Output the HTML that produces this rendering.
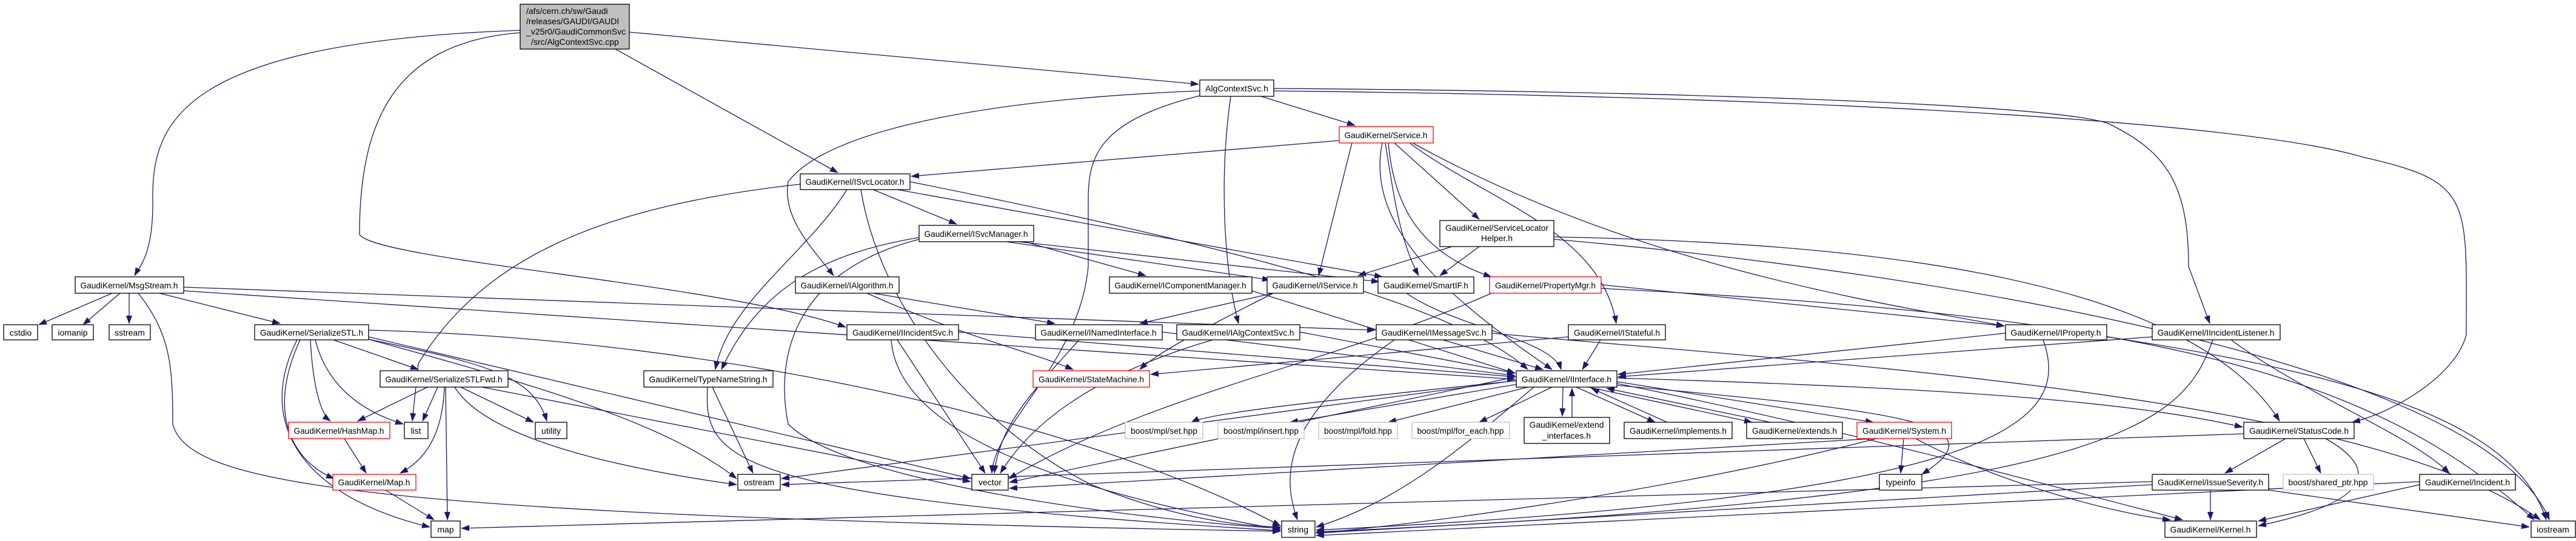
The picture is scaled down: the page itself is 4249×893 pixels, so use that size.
<!DOCTYPE html>
<html><head><meta charset="utf-8"><style>
html,body{margin:0;padding:0;background:#fff;}
svg{display:block;}
text{font-family:"Liberation Sans",sans-serif;font-size:14px;fill:#000;}
.e{fill:none;stroke:#191970;stroke-width:1.3;}
.n{fill:#fff;stroke:#000;stroke-width:1.3;}
.r{fill:#fff;stroke:#ff0000;stroke-width:1.3;}
.g{fill:#fff;stroke:#bfbfbf;stroke-width:1.3;}
</style></head><body>
<svg width="4249" height="893" viewBox="0 0 4249 893" xmlns="http://www.w3.org/2000/svg">
<defs><marker id="a" markerUnits="userSpaceOnUse" markerWidth="14" markerHeight="10" refX="13" refY="5" orient="auto"><path d="M0,0 L14,5 L0,10 z" fill="#191970"/></marker></defs>
<g class="e" marker-end="url(#a)">
<path d="M858,50 C300,70 250,200 252,330 C253,420 230,440 222,455"/>
<path d="M858,54 C650,70 593,200 593,387 C620,430 1200,470 1395,540"/>
<path d="M1038,53 L1977,139"/>
<path d="M1015,81 L1382,285"/>
<path d="M2080,159 L2235,207"/>
<path d="M1979,150 C1600,165 1360,220 1300,300 C1290,360 1340,410 1375,455"/>
<path d="M1979,158 C1810,200 1795,260 1795,330 L1795,440 C1780,600 1640,700 1636,781"/>
<path d="M2030,159 C2010,300 2020,450 2043,534"/>
<path d="M2101,146 C2700,150 3400,170 3480,205 C3570,250 3610,300 3610,440 L3645,534"/>
<path d="M2101,150 C3000,160 3700,200 3900,260 C4080,300 4068,330 4068,553 C4050,620 3950,680 3880,697"/>
<path d="M2209,232 L1503,291"/>
<path d="M2230,236 L2175,455"/>
<path d="M2285,236 C2300,330 2310,400 2340,455"/>
<path d="M2300,236 L2440,362"/>
<path d="M2325,236 C2450,330 2640,380 2666,534"/>
<path d="M2290,236 C2300,350 2350,420 2460,457"/>
<path d="M2330,236 C2700,440 3100,500 3306,538"/>
<path d="M2280,236 C2250,380 2400,500 2560,610"/>
<path d="M2395,407 L2240,455"/>
<path d="M2440,407 L2375,455"/>
<path d="M2563,391 C3000,400 3600,440 3760,695"/>
<path d="M2563,395 C3200,450 4100,600 4205,858"/>
<path d="M1440,313 L1578,370"/>
<path d="M1397,313 C1330,420 1200,500 1180,610"/>
<path d="M1320,304 C1000,340 800,420 690,600 L680,695"/>
<path d="M1480,313 L2280,457"/>
<path d="M1420,313 C1450,500 1600,700 1800,800 C1950,860 2050,868 2112,870"/>
<path d="M1501,300 C2000,400 2400,500 2520,610"/>
<path d="M1690,399 L1890,455"/>
<path d="M1660,399 L2095,462"/>
<path d="M1680,399 L2275,465"/>
<path d="M1516,392 C1350,420 1250,480 1190,610"/>
<path d="M1516,395 C1300,450 1280,600 1300,700 C1400,800 1900,860 2112,872"/>
<path d="M1440,484 L1740,534"/>
<path d="M1430,484 C1600,560 1700,580 1770,610"/>
<path d="M2065,480 L2499,616"/>
<path d="M2100,484 L1880,534"/>
<path d="M2100,484 C1950,560 1900,590 1880,610"/>
<path d="M2320,484 C2400,540 2560,560 2575,610"/>
<path d="M2641,470 L3306,538"/>
<path d="M2460,484 C2200,600 1900,650 1664,790"/>
<path d="M2641,476 C3500,520 3900,600 4180,858"/>
<path d="M1581,548 L2499,622"/>
<path d="M1480,561 L1625,781"/>
<path d="M1470,561 C1480,700 1700,800 2112,874"/>
<path d="M1917,548 L2499,620"/>
<path d="M1780,561 C1700,650 1650,700 1640,781"/>
<path d="M2144,548 L2499,616"/>
<path d="M2000,561 C1800,620 1700,700 1650,781"/>
<path d="M2380,561 L2545,610"/>
<path d="M2300,561 C2100,700 2120,800 2140,858"/>
<path d="M2461,550 C3000,600 3900,650 4190,858"/>
<path d="M2640,561 L2610,610"/>
<path d="M2587,556 L1898,618"/>
<path d="M3308,550 L2669,618"/>
<path d="M3370,561 C3420,700 3300,820 2171,875"/>
<path d="M3475,556 C3900,620 4150,700 4200,858"/>
<path d="M3550,556 L2669,622"/>
<path d="M3680,561 C3800,650 3980,720 4040,781"/>
<path d="M3650,561 C3600,700 3500,820 2171,878"/>
<path d="M550,561 L690,610"/>
<path d="M512,561 C515,620 525,680 545,695"/>
<path d="M520,561 C540,640 600,680 665,700"/>
<path d="M495,561 C440,680 480,760 551,790"/>
<path d="M490,561 C420,700 500,820 709,870"/>
<path d="M608,560 C800,600 880,620 902,695"/>
<path d="M608,560 C900,640 1100,700 1215,790"/>
<path d="M608,556 L1601,790"/>
<path d="M608,545 C1200,560 1800,700 2112,868"/>
<path d="M705,639 L590,695"/>
<path d="M722,639 L697,695"/>
<path d="M733,639 C730,720 700,760 660,781"/>
<path d="M735,639 L738,858"/>
<path d="M760,639 L880,697"/>
<path d="M795,639 L1601,795"/>
<path d="M750,639 C800,720 1000,770 1215,800"/>
<path d="M568,724 L604,781"/>
<path d="M636,809 L716,858"/>
<path d="M185,484 L64,536"/>
<path d="M198,484 L137,536"/>
<path d="M213,484 L213,534"/>
<path d="M263,484 L462,534"/>
<path d="M228,484 C280,550 285,600 285,700 C310,800 600,850 2112,877"/>
<path d="M303,474 L2268,545"/>
<path d="M303,480 L2499,626"/>
<path d="M1175,639 L1242,781"/>
<path d="M1167,639 C1160,760 1200,820 2112,876"/>
<path d="M2505,628 C2200,660 2000,680 1965,697"/>
<path d="M2510,633 L2128,697"/>
<path d="M2520,639 L2290,697"/>
<path d="M2560,639 L2440,697"/>
<path d="M2578,639 L2577,687"/>
<path d="M2593,689 L2593,641"/>
<path d="M2600,639 L2730,697"/>
<path d="M2750,697 L2625,641"/>
<path d="M2620,639 L2890,697"/>
<path d="M2920,697 L2650,641"/>
<path d="M2667,630 L3090,697"/>
<path d="M2667,624 C3200,640 3500,660 3699,705"/>
<path d="M2501,628 L1289,790"/>
<path d="M2501,622 L1665,796"/>
<path d="M2667,633 C3000,700 3300,780 3600,858"/>
<path d="M2667,636 C3150,680 3300,700 3170,783"/>
<path d="M2530,639 C2400,750 2300,830 2171,870"/>
<path d="M3140,724 L3135,781"/>
<path d="M3160,724 C3300,800 3500,850 3580,858"/>
<path d="M3095,724 C2800,800 2400,860 2171,880"/>
<path d="M3090,724 L1665,806"/>
<path d="M3770,724 L3670,781"/>
<path d="M3800,724 L3828,781"/>
<path d="M3836,724 C3900,760 3950,820 3725,868"/>
<path d="M3701,716 L1289,800"/>
<path d="M3646,809 L3646,858"/>
<path d="M3742,809 L4172,870"/>
<path d="M3550,800 L2171,880"/>
<path d="M3550,795 L761,872"/>
<path d="M3991,800 L3725,860"/>
<path d="M3991,795 L2171,884"/>
</g>
<!-- root -->
<rect x="858" y="7" width="180" height="74" fill="#bfbfbf" stroke="#000" stroke-width="1.3"/>
<text x="868" y="23">/afs/cern.ch/sw/Gaudi</text>
<text x="868" y="40">/releases/GAUDI/GAUDI</text>
<text x="868" y="57">_v25r0/GaudiCommonSvc</text>
<text x="876" y="74">/src/AlgContextSvc.cpp</text>
<!-- nodes -->
<g text-anchor="middle">
<rect class="n" x="1979" y="132" width="122" height="27"/><text x="2040" y="151" textLength="104" lengthAdjust="spacingAndGlyphs">AlgContextSvc.h</text>
<rect class="r" x="2209" y="209" width="155" height="27"/><text x="2286" y="228" textLength="137" lengthAdjust="spacingAndGlyphs">GaudiKernel/Service.h</text>
<rect class="n" x="1320" y="287" width="181" height="26"/><text x="1410" y="305" textLength="163" lengthAdjust="spacingAndGlyphs">GaudiKernel/ISvcLocator.h</text>
<rect class="n" x="2375" y="364" width="188" height="43"/><text x="2469" y="381" textLength="170" lengthAdjust="spacingAndGlyphs">GaudiKernel/ServiceLocator</text><text x="2469" y="398">Helper.h</text>
<rect class="n" x="1516" y="372" width="189" height="27"/><text x="1610" y="391" textLength="171" lengthAdjust="spacingAndGlyphs">GaudiKernel/ISvcManager.h</text>
<rect class="n" x="124" y="457" width="179" height="27"/><text x="213" y="476" textLength="161" lengthAdjust="spacingAndGlyphs">GaudiKernel/MsgStream.h</text>
<rect class="n" x="1312" y="457" width="171" height="27"/><text x="1397" y="476" textLength="153" lengthAdjust="spacingAndGlyphs">GaudiKernel/IAlgorithm.h</text>
<rect class="n" x="1830" y="457" width="235" height="27"/><text x="1947" y="476" textLength="217" lengthAdjust="spacingAndGlyphs">GaudiKernel/IComponentManager.h</text>
<rect class="n" x="2090" y="457" width="159" height="27"/><text x="2169" y="476" textLength="141" lengthAdjust="spacingAndGlyphs">GaudiKernel/IService.h</text>
<rect class="n" x="2273" y="457" width="158" height="27"/><text x="2352" y="476" textLength="140" lengthAdjust="spacingAndGlyphs">GaudiKernel/SmartIF.h</text>
<rect class="r" x="2457" y="457" width="184" height="27"/><text x="2549" y="476" textLength="166" lengthAdjust="spacingAndGlyphs">GaudiKernel/PropertyMgr.h</text>
<rect class="n" x="6" y="536" width="56" height="25"/><text x="34" y="554">cstdio</text>
<rect class="n" x="86" y="536" width="68" height="25"/><text x="120" y="554">iomanip</text>
<rect class="n" x="180" y="536" width="68" height="25"/><text x="214" y="554">sstream</text>
<rect class="n" x="420" y="536" width="188" height="25"/><text x="514" y="554" textLength="170" lengthAdjust="spacingAndGlyphs">GaudiKernel/SerializeSTL.h</text>
<rect class="n" x="1397" y="536" width="184" height="25"/><text x="1489" y="554" textLength="166" lengthAdjust="spacingAndGlyphs">GaudiKernel/IIncidentSvc.h</text>
<rect class="n" x="1708" y="536" width="209" height="25"/><text x="1812" y="554" textLength="191" lengthAdjust="spacingAndGlyphs">GaudiKernel/INamedInterface.h</text>
<rect class="n" x="1941" y="536" width="203" height="25"/><text x="2042" y="554" textLength="185" lengthAdjust="spacingAndGlyphs">GaudiKernel/IAlgContextSvc.h</text>
<rect class="n" x="2270" y="536" width="191" height="25"/><text x="2365" y="554" textLength="173" lengthAdjust="spacingAndGlyphs">GaudiKernel/IMessageSvc.h</text>
<rect class="n" x="2587" y="536" width="160" height="25"/><text x="2667" y="554" textLength="142" lengthAdjust="spacingAndGlyphs">GaudiKernel/IStateful.h</text>
<rect class="n" x="3308" y="536" width="167" height="25"/><text x="3391" y="554" textLength="149" lengthAdjust="spacingAndGlyphs">GaudiKernel/IProperty.h</text>
<rect class="n" x="3550" y="536" width="211" height="25"/><text x="3655" y="554" textLength="193" lengthAdjust="spacingAndGlyphs">GaudiKernel/IIncidentListener.h</text>
<rect class="n" x="627" y="612" width="211" height="27"/><text x="732" y="631" textLength="193" lengthAdjust="spacingAndGlyphs">GaudiKernel/SerializeSTLFwd.h</text>
<rect class="n" x="1062" y="612" width="213" height="27"/><text x="1168" y="631" textLength="195" lengthAdjust="spacingAndGlyphs">GaudiKernel/TypeNameString.h</text>
<rect class="r" x="1704" y="612" width="192" height="27"/><text x="1800" y="631" textLength="174" lengthAdjust="spacingAndGlyphs">GaudiKernel/StateMachine.h</text>
<rect class="n" x="2501" y="612" width="166" height="27"/><text x="2584" y="631" textLength="148" lengthAdjust="spacingAndGlyphs">GaudiKernel/IInterface.h</text>
<rect class="r" x="476" y="697" width="167" height="27"/><text x="559" y="716" textLength="149" lengthAdjust="spacingAndGlyphs">GaudiKernel/HashMap.h</text>
<rect class="n" x="667" y="697" width="39" height="27"/><text x="686" y="716">list</text>
<rect class="n" x="883" y="697" width="52" height="27"/><text x="909" y="716">utility</text>
<rect class="g" x="1856" y="697" width="128" height="27"/><text x="1920" y="716" textLength="110" lengthAdjust="spacingAndGlyphs">boost/mpl/set.hpp</text>
<rect class="g" x="2009" y="697" width="142" height="27"/><text x="2080" y="716" textLength="124" lengthAdjust="spacingAndGlyphs">boost/mpl/insert.hpp</text>
<rect class="g" x="2175" y="697" width="130" height="27"/><text x="2240" y="716" textLength="112" lengthAdjust="spacingAndGlyphs">boost/mpl/fold.hpp</text>
<rect class="g" x="2329" y="697" width="161" height="27"/><text x="2409" y="716" textLength="143" lengthAdjust="spacingAndGlyphs">boost/mpl/for_each.hpp</text>
<rect class="n" x="2514" y="689" width="141" height="43"/><text x="2584" y="706" textLength="123" lengthAdjust="spacingAndGlyphs">GaudiKernel/extend</text><text x="2584" y="724">_interfaces.h</text>
<rect class="n" x="2679" y="697" width="178" height="27"/><text x="2768" y="716" textLength="160" lengthAdjust="spacingAndGlyphs">GaudiKernel/implements.h</text>
<rect class="n" x="2881" y="697" width="158" height="27"/><text x="2960" y="716" textLength="140" lengthAdjust="spacingAndGlyphs">GaudiKernel/extends.h</text>
<rect class="r" x="3063" y="697" width="156" height="27"/><text x="3141" y="716" textLength="138" lengthAdjust="spacingAndGlyphs">GaudiKernel/System.h</text>
<rect class="n" x="3701" y="697" width="182" height="27"/><text x="3792" y="716" textLength="164" lengthAdjust="spacingAndGlyphs">GaudiKernel/StatusCode.h</text>
<rect class="r" x="549" y="783" width="137" height="26"/><text x="617" y="801" textLength="119" lengthAdjust="spacingAndGlyphs">GaudiKernel/Map.h</text>
<rect class="n" x="1217" y="783" width="70" height="26"/><text x="1252" y="801">ostream</text>
<rect class="n" x="1603" y="783" width="60" height="26"/><text x="1633" y="801">vector</text>
<rect class="n" x="3100" y="783" width="70" height="26"/><text x="3135" y="801">typeinfo</text>
<rect class="n" x="3550" y="783" width="192" height="26"/><text x="3646" y="801" textLength="174" lengthAdjust="spacingAndGlyphs">GaudiKernel/IssueSeverity.h</text>
<rect class="g" x="3766" y="783" width="149" height="26"/><text x="3840" y="801" textLength="131" lengthAdjust="spacingAndGlyphs">boost/shared_ptr.hpp</text>
<rect class="n" x="3991" y="783" width="158" height="26"/><text x="4070" y="801" textLength="140" lengthAdjust="spacingAndGlyphs">GaudiKernel/Incident.h</text>
<rect class="n" x="711" y="860" width="48" height="27"/><text x="735" y="879">map</text>
<rect class="n" x="2114" y="860" width="55" height="27"/><text x="2141" y="879">string</text>
<rect class="n" x="3571" y="860" width="151" height="27"/><text x="3646" y="879" textLength="133" lengthAdjust="spacingAndGlyphs">GaudiKernel/Kernel.h</text>
<rect class="n" x="4175" y="860" width="73" height="27"/><text x="4211" y="879">iostream</text>
</g>
</svg>
</body></html>
